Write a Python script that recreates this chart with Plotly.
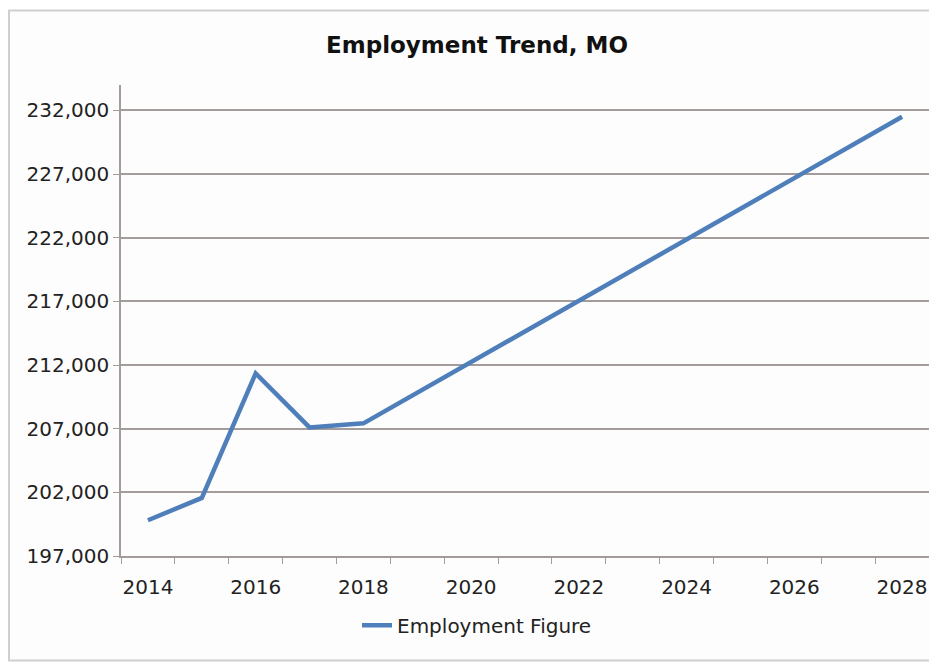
import plotly.graph_objects as go

years = [2014, 2015, 2016, 2017, 2018, 2019, 2020, 2021,
         2022, 2023, 2024, 2025, 2026, 2027, 2028]
employment = [199810, 201560, 211350, 207100, 207420, 209830, 212240, 214650,
              217050, 219460, 221870, 224280, 226690, 229090, 231500]
label_years = [2014, 2016, 2018, 2020, 2022, 2024, 2026, 2028]
y_ticks = [197000, 202000, 207000, 212000, 217000, 222000, 227000, 232000]

axis_col = "#a39c9a"
font_fam = "'DejaVu Sans', sans-serif"

fig = go.Figure()
fig.add_trace(go.Scatter(
    x=years, y=employment, mode="lines", name="Employment Figure",
    line=dict(color="#4f7fba", width=4.5),
))

# page is offset by the browser's 8px body margin, so the figure is sized to match
fig.update_layout(
    width=929, height=655,
    margin=dict(l=113, r=8, t=77, b=107),
    paper_bgcolor="white", plot_bgcolor="#fdfdfd",
    font=dict(family=font_fam, size=20, color="#222222"),
    title=dict(text="<b>Employment Trend, MO</b>", xref="paper", x=0.4406, xanchor="center",
               y=0.9435, yanchor="middle", font=dict(size=23, color="#111111")),
    showlegend=True,
    legend=dict(orientation="h", x=0.4406, xanchor="center", y=-0.147, yanchor="middle",
                font=dict(size=20), bgcolor="rgba(0,0,0,0)"),
    shapes=[dict(type="rect", xref="paper", yref="paper",
                 x0=-0.1386, x1=1.007, y0=-0.222, y1=1.158,
                 line=dict(color="#cfcfcf", width=2), fillcolor="#fdfdfd",
                 layer="below")],
)

fig.update_xaxes(
    range=[2013.5, 2028.5], tickmode="array", tickvals=label_years,
    ticks="", showgrid=False, zeroline=False,
    showline=True, linecolor=axis_col, linewidth=1.5,
    minor=dict(tickmode="linear", tick0=2013.5, dtick=1, ticks="outside",
               ticklen=6, tickcolor=axis_col, showgrid=False),
    tickfont=dict(size=20), ticklabelstandoff=12,
)
fig.update_yaxes(
    range=[197000, 234000], tickmode="array", tickvals=y_ticks,
    tickformat=",", ticks="outside", ticklen=6, tickcolor=axis_col,
    showgrid=True, gridcolor=axis_col, gridwidth=1.5, zeroline=False,
    showline=True, linecolor=axis_col, linewidth=1.5,
    tickfont=dict(size=20),
)

fig.write_html("out.html")
